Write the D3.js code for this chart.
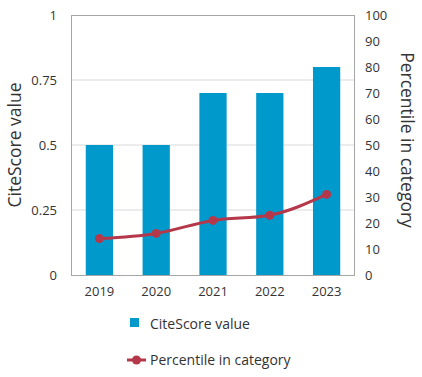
<!DOCTYPE html>
<html>
<head>
<meta charset="utf-8">
<script src="https://cdn.jsdelivr.net/npm/d3@7"></script>
<style>
  body { margin: 0; background: #fff; }
  text { font-family: "Open Sans", sans-serif; fill: #333; }
</style>
</head>
<body>
<svg id="chart" width="422" height="377"></svg>
<script>
const years = ['2019', '2020', '2021', '2022', '2023'];
const citeScore = [0.5, 0.5, 0.7, 0.7, 0.8];
const percentile = [14, 16, 21, 23, 31];
const leftTicks = [0, 0.25, 0.5, 0.75, 1];
const rightTicks = [0, 10, 20, 30, 40, 50, 60, 70, 80, 90, 100];

const barColor = '#0099cc';
const lineColor = '#b5384a';

const margin = { top: 15, left: 71, right: 355, bottom: 275 };
const svg = d3.select('#chart');

var x = d3.scaleBand().domain(years).range([margin.left, margin.right]).paddingInner(0.52).paddingOuter(0.26);
var yLeft = d3.scaleLinear().domain([0, 1]).range([margin.bottom, margin.top]);
var yRight = d3.scaleLinear().domain([0, 100]).range([margin.bottom, margin.top]);

// gridlines
svg.append('g').selectAll('line').data(leftTicks.slice(1, -1)).join('line')
  .attr('x1', margin.left).attr('x2', margin.right)
  .attr('y1', d => yLeft(d)).attr('y2', d => yLeft(d))
  .attr('stroke', '#d9d9d9').attr('stroke-width', 1);

// bars
svg.append('g').selectAll('rect').data(citeScore).join('rect')
  .attr('x', (d, i) => x(years[i]))
  .attr('width', x.bandwidth())
  .attr('y', d => yLeft(d))
  .attr('height', d => yLeft(0) - yLeft(d))
  .attr('fill', barColor);

// frame
svg.append('rect')
  .attr('x', margin.left + 0.5).attr('y', margin.top + 0.5)
  .attr('width', margin.right - margin.left - 1).attr('height', margin.bottom - margin.top)
  .attr('fill', 'none').attr('stroke', '#a6a6a6');

// left axis
var left = svg.append('g').attr('transform', 'translate(' + margin.left + ',0)')
  .call(d3.axisLeft(yLeft).tickValues(leftTicks).tickSize(0).tickPadding(14).tickFormat(d => d3.format('')(d)));
left.select('.domain').remove();

// right axis
var right = svg.append('g').attr('transform', 'translate(' + margin.right + ',0)')
  .call(d3.axisRight(yRight).tickValues(rightTicks).tickSize(0).tickPadding(10));
right.select('.domain').remove();

// x axis
var bottom = svg.append('g').attr('transform', 'translate(0,' + margin.bottom + ')')
  .call(d3.axisBottom(x).tickSize(0).tickPadding(12));
bottom.select('.domain').remove();

svg.selectAll('.tick text').attr('fill', '#333')
  .style('font-family', '"Open Sans", sans-serif').style('font-size', '13px');

// axis titles
svg.append('text')
  .attr('transform', 'translate(21,145) rotate(-90)')
  .attr('text-anchor', 'middle')
  .style('font-size', '17.5px')
  .text('CiteScore value');
svg.append('text')
  .attr('transform', 'translate(401,140) rotate(90)')
  .attr('text-anchor', 'middle')
  .style('font-size', '17.5px')
  .text('Percentile in category');

// percentile line
var pts = percentile.map((d, i) => ({ xpoint: x(years[i]) + x.bandwidth() / 2, ypoint: yRight(d) }));
var Gen = d3.line().x(p => p.xpoint).y(p => p.ypoint).curve(d3.curveMonotoneX);
svg.append('path').datum(pts)
  .attr('fill', 'none').attr('stroke', lineColor).attr('stroke-width', 3).attr('d', Gen);
svg.append('g').selectAll('circle').data(pts).join('circle')
  .attr('cx', p => p.xpoint).attr('cy', p => p.ypoint).attr('r', 4.5)
  .attr('fill', lineColor);

// legend
var lg = svg.append('g');
lg.append('rect').attr('x', 130).attr('y', 318).attr('width', 9).attr('height', 9).attr('fill', barColor);
lg.append('text').attr('x', 150).attr('y', 329).style('font-size', '14px').text('CiteScore value');
lg.append('line').attr('x1', 127).attr('x2', 146).attr('y1', 360).attr('y2', 360)
  .attr('stroke', lineColor).attr('stroke-width', 3);
lg.append('circle').attr('cx', 136.5).attr('cy', 360).attr('r', 4.5).attr('fill', lineColor);
lg.append('text').attr('x', 150).attr('y', 365).style('font-size', '14px').text('Percentile in category');
</script>
</body>
</html>
